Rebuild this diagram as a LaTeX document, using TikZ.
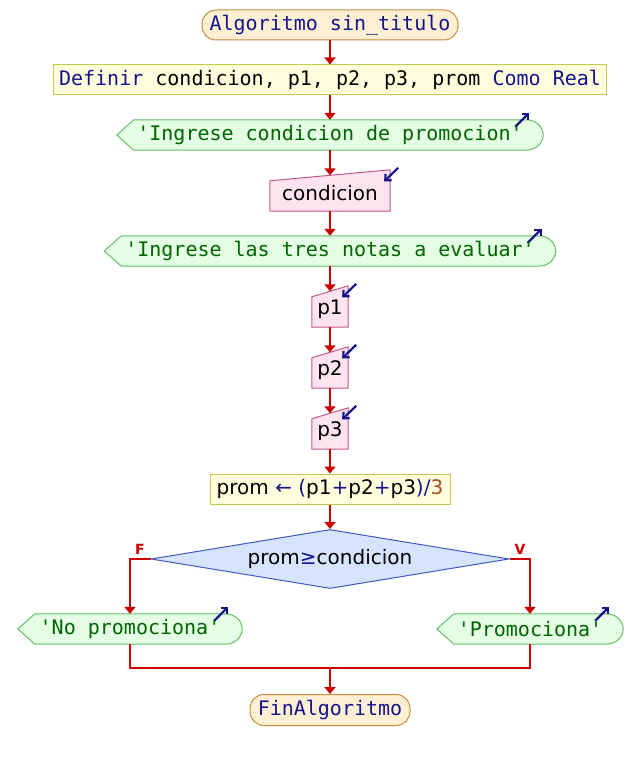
\documentclass[tikz,border=0pt]{standalone}
\usepackage{fontspec}
\setmainfont{DejaVu Sans}
\setmonofont{DejaVu Sans Mono}
\usetikzlibrary{arrows.meta,shapes.geometric,backgrounds,calc}
\definecolor{flowred}{RGB}{204,0,0}
\definecolor{kw}{RGB}{20,20,140}
\definecolor{outtxt}{RGB}{0,100,0}
\definecolor{numc}{RGB}{160,80,40}
\definecolor{sefill}{RGB}{255,240,212}
\definecolor{sedraw}{RGB}{200,140,60}
\definecolor{prfill}{RGB}{255,255,221}
\definecolor{prdraw}{RGB}{200,200,80}
\definecolor{oufill}{RGB}{228,255,228}
\definecolor{oudraw}{RGB}{100,190,100}
\definecolor{infill}{RGB}{255,228,240}
\definecolor{indraw}{RGB}{190,90,140}
\definecolor{defill}{RGB}{215,228,255}
\definecolor{dedraw}{RGB}{60,90,200}
\newcommand\monoF{\ttfamily\fontsize{20}{24}\selectfont}
\newcommand\sansF{\rmfamily\fontsize{20}{24}\selectfont}
\newcommand\outshape[1]{%
  \filldraw[outline] ([xshift=17pt]#1.north west) -- (#1.west) -- ([xshift=17pt]#1.south west)
    -- ([xshift=-17pt]#1.south east) .. controls ([xshift=-7.5pt]#1.south east) and ([yshift=-8.3pt]#1.east) .. (#1.east)
    .. controls ([yshift=8.3pt]#1.east) and ([xshift=-7.5pt]#1.north east) .. ([xshift=-17pt]#1.north east) -- cycle;
  \draw[icon] ([xshift=-28pt,yshift=-7pt]#1.north east) -- ([xshift=-14pt,yshift=7pt]#1.north east);}
\newcommand\inshape[1]{%
  \filldraw[inline] (#1.south west) -- (#1.south east) -- ([yshift=5.5pt]#1.north east)
    -- ([yshift=-5.5pt]#1.north west) -- cycle;
  \draw[icon] ([xshift=8pt,yshift=7.5pt]#1.north east) -- ([xshift=-6pt,yshift=-6pt]#1.north east);}
\begin{document}
\begin{tikzpicture}[x=1pt,y=-1pt,
  startend/.style={rectangle, rounded corners=14pt, draw=sedraw, fill=sefill, line width=1pt,
    inner sep=0pt, minimum height=30pt, font=\monoF, text=kw},
  procbox/.style={rectangle, draw=prdraw, fill=prfill, line width=1pt, inner sep=0pt,
    minimum height=30pt},
  outnode/.style={inner sep=0pt, minimum height=30pt, font=\monoF, text=outtxt},
  innode/.style={inner sep=0pt, minimum height=35.5pt, font=\sansF, text=black},
  outline/.style={draw=oudraw, fill=oufill, line width=1pt},
  inline/.style={draw=indraw, fill=infill, line width=1pt},
  icon/.style={draw=kw, line width=2.2pt, -{Straight Barb[length=4.5pt,width=9pt]}},
  decision/.style={diamond, aspect=6, draw=dedraw, fill=defill, line width=1pt, inner sep=0pt,
    minimum width=358pt, minimum height=59pt, font=\sansF},
  flowline/.style={draw=flowred, line width=2pt},
  flow/.style={flowline, -{Triangle[length=7pt,width=11pt]}},
  lbl/.style={text=flowred, font=\rmfamily\bfseries\fontsize{14}{16}\selectfont, inner sep=0pt}]
\useasboundingbox (0,0) rectangle (642,759);
\node[startend, minimum width=256pt] (start) at (330,25) {Algoritmo sin\_titulo};
\node[procbox, minimum width=553pt, font=\monoF] (def) at (330,80)
  {\textcolor{kw}{Definir} condicion, p1, p2, p3, prom \textcolor{kw}{Como Real}};
\node[outnode, minimum width=426pt] (o1) at (330,135) {\textquotesingle Ingrese condicion de promocion\textquotesingle};
\node[innode, minimum width=120pt] (in1) at (330,193.25) {condicion};
\node[outnode, minimum width=451pt] (o2) at (330,251) {\textquotesingle Ingrese las tres notas a evaluar\textquotesingle};
\node[innode, minimum width=36pt] (p1) at (330,309.25) {p1};
\node[innode, minimum width=36pt] (p2) at (330,370.25) {p2};
\node[innode, minimum width=36pt] (p3) at (330,431.25) {p3};
\node[procbox, minimum width=240pt, font=\sansF] (asg) at (330,489)
  {prom \textcolor{kw}{←} \textcolor{kw}{(}p1\textcolor{kw}{+}p2\textcolor{kw}{+}p3\textcolor{kw}{)/}\textcolor{numc}{3}};
\node[decision] (dec) at (330,559) {prom\textcolor{kw}{≥}condicion};
\node[outnode, minimum width=224pt] (o3) at (130,629) {\textquotesingle No promociona\textquotesingle};
\node[outnode, minimum width=186pt] (o4) at (530,629) {\textquotesingle Promociona\textquotesingle};
\node[startend, minimum width=160pt, minimum height=31pt] (end) at (330,710) {FinAlgoritmo};
\node[lbl] (lf) at (140,549) {F};
\node[lbl] (lv) at (520,549) {V};
\coordinate (m1) at (130,668);
\coordinate (m2) at (530,668);
\coordinate (mm) at (330,668);
\begin{scope}[on background layer]
  \fill[white] (0,0) rectangle (642,759);
  \outshape{o1}
  \outshape{o2}
  \outshape{o3}
  \outshape{o4}
  \inshape{in1}
  \inshape{p1}
  \inshape{p2}
  \inshape{p3}
\end{scope}
\draw[flow] (start.south) -- (def.north);
\draw[flow] (def.south) -- (o1.north);
\draw[flow] (o1.south) -- (in1.north);
\draw[flow] (in1.south) -- (o2.north);
\draw[flow] (o2.south) -- (p1.north);
\draw[flow] (p1.south) -- (p2.north);
\draw[flow] (p2.south) -- (p3.north);
\draw[flow] (p3.south) -- (asg.north);
\draw[flow] (asg.south) -- (dec.north);
\draw[flow] (dec.west) -| (o3.north);
\draw[flow] (dec.east) -| (o4.north);
\draw[flowline] (o3.south) -- (m1) -- (m2) -- (o4.south);
\draw[flow] (mm) -- (end.north);
\end{tikzpicture}
\end{document}
